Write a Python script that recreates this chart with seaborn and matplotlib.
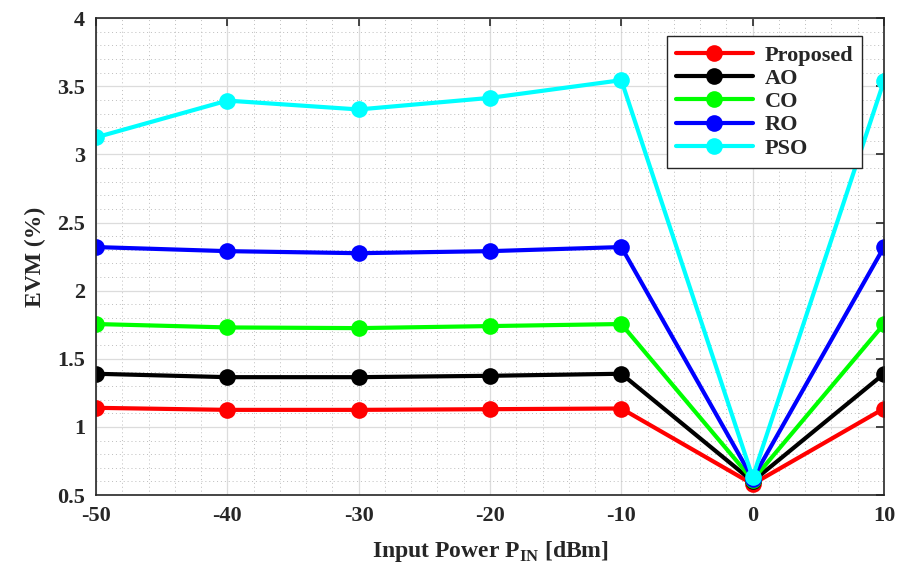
import numpy as np
import pandas as pd
import matplotlib
matplotlib.use("Agg")
import matplotlib.pyplot as plt
import seaborn as sns
from matplotlib.ticker import MultipleLocator, AutoMinorLocator

# input power levels (dBm)
pin = [-50, -40, -30, -20, -10, 0, 10]

# EVM (%) per method
evm_proposed = [1.14, 1.125, 1.125, 1.13, 1.135, 0.58, 1.135]
evm_ao = [1.39, 1.365, 1.365, 1.375, 1.39, 0.60, 1.39]
evm_co = [1.755, 1.73, 1.725, 1.74, 1.755, 0.61, 1.755]
evm_ro = [2.32, 2.29, 2.275, 2.29, 2.32, 0.62, 2.32]
evm_pso = [3.125, 3.395, 3.33, 3.415, 3.545, 0.63, 3.54]

methods = ["Proposed", "AO", "CO", "RO", "PSO"]
colors = ["#ff0000", "#000000", "#00ff00", "#0000ff", "#00ffff"]

series = [evm_proposed, evm_ao, evm_co, evm_ro, evm_pso]
df = pd.concat(
    [pd.DataFrame({"pin": pin, "evm": vals, "method": m}) for m, vals in zip(methods, series)],
    ignore_index=True,
)

sns.set_style("white")
plt.rcParams['font.family'] = ['Liberation Serif', 'DejaVu Serif']
plt.rcParams['font.weight'] = 'bold'
plt.rcParams['axes.unicode_minus'] = False
plt.rcParams['mathtext.fontset'] = 'custom'
plt.rcParams['mathtext.rm'] = 'Liberation Serif:bold'
plt.rcParams['mathtext.bf'] = 'Liberation Serif:bold'

fig = plt.figure(figsize=(9.09, 5.68), dpi=100)
ax = fig.add_axes([0.1056, 0.1285, 0.8669, 0.8395])

sns.lineplot(data=df, x="pin", y="evm", hue="method", hue_order=methods,
             palette=colors, marker="o", markersize=12, markeredgewidth=0,
             linewidth=3, ax=ax, legend=False)

ax.set_xlim(-50, 10)
ax.set_ylim(0.5, 4)
ax.xaxis.set_major_locator(MultipleLocator(10))
ax.xaxis.set_minor_locator(AutoMinorLocator(5))
ax.set_yticks(np.arange(0.5, 4.01, 0.5))
ax.set_yticklabels(["0.5", "1", "1.5", "2", "2.5", "3", "3.5", "4"])
ax.yaxis.set_minor_locator(AutoMinorLocator(5))

ax.grid(which="major", color="#dcdcdc", linewidth=0.9, linestyle="-")
ax.grid(which="minor", color="#bdbdbd", linewidth=0.7, linestyle=(0, (1, 3)))
ax.set_axisbelow(True)

ax.tick_params(which="major", direction="in", length=6, width=1.2,
               top=True, right=True, labelsize=16, colors="#262626", pad=8)
ax.tick_params(which="minor", length=0)
for lab in ax.get_xticklabels() + ax.get_yticklabels():
    lab.set_fontweight("bold")
for sp in ax.spines.values():
    sp.set_color("#262626")
    sp.set_linewidth(1.2)

ax.set_xlabel(r"Input Power P$_{\mathbf{IN}}$ [dBm]", fontsize=17, fontweight="bold",
              color="#262626", labelpad=9)
ax.set_ylabel("EVM (%)", fontsize=17, fontweight="bold", color="#262626", labelpad=8)

handles = [plt.Line2D([], [], color=c, linewidth=3, marker="o", markersize=12,
                      markeredgewidth=0) for c in colors]
leg = ax.legend(handles, methods, loc="upper right", bbox_to_anchor=(0.972, 0.962),
                borderaxespad=0, fancybox=False, framealpha=1, edgecolor="#262626",
                prop={"family": "Liberation Serif", "weight": "bold", "size": 16},
                handlelength=3.5, labelspacing=0.12, borderpad=0.4, handletextpad=0.5)
leg.get_frame().set_linewidth(1.0)

fig.savefig("out.png", dpi=100)
